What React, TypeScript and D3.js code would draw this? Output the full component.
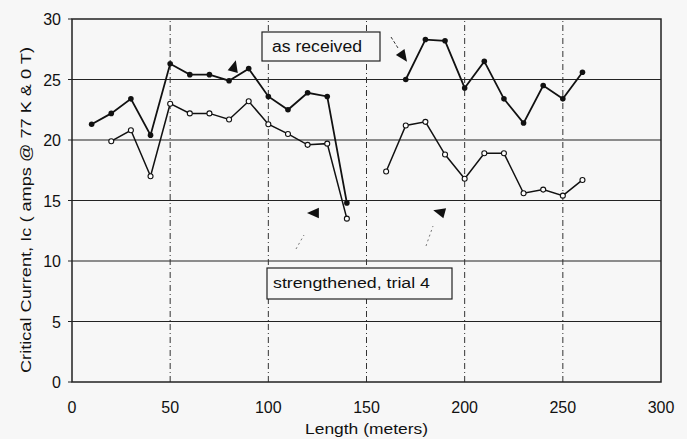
import React from "react";
import * as d3 from "d3";

const lengths = [10, 20, 30, 40, 50, 60, 70, 80, 90, 100, 110, 120, 130, 140, 150, 160, 170, 180, 190, 200, 210, 220, 230, 240, 250, 260];
const asReceived: (number | null)[] = [21.3, 22.2, 23.4, 20.4, 26.3, 25.4, 25.4, 24.9, 25.9, 23.6, 22.5, 23.9, 23.6, 14.8, null, null, 25.0, 28.3, 28.2, 24.3, 26.5, 23.4, 21.4, 24.5, 23.4, 25.6];
const strengthened: (number | null)[] = [null, 19.9, 20.8, 17.0, 23.0, 22.2, 22.2, 21.7, 23.2, 21.3, 20.5, 19.6, 19.7, 13.5, null, 17.4, 21.2, 21.5, 18.8, 16.8, 18.9, 18.9, 15.6, 15.9, 15.4, 16.7];
const xTicks = [0, 50, 100, 150, 200, 250, 300];
const yTicks = [0, 5, 10, 15, 20, 25, 30];
const xGrid = [50, 100, 150, 200, 250];
const yGrid = [5, 10, 15, 20, 25];

export default function App() {
  const W = 687, H = 439;
  const x = d3.scaleLinear().domain([0, 300]).range([72, 661]);
  const y = d3.scaleLinear().domain([0, 30]).range([382, 19]);
  const font = "'Liberation Sans', Arial, sans-serif";

  const pts = (vals: (number | null)[]) => lengths.map((l, i) => ({ l, v: vals[i] }));
  const line = d3
    .line<{ l: number; v: number | null }>()
    .defined((d) => d.v !== null)
    .x((d) => x(d.l))
    .y((d) => y(d.v as number));

  const tri = (cx: number, cy: number, angle: number) => {
    const s = 7;
    const p = [
      [s, 0],
      [-s * 0.7, -s * 0.75],
      [-s * 0.7, s * 0.75],
    ]
      .map(([a, b]) => {
        const r = (angle * Math.PI) / 180;
        return [cx + a * Math.cos(r) - b * Math.sin(r), cy + a * Math.sin(r) + b * Math.cos(r)].join(",");
      })
      .join(" ");
    return <polygon points={p} fill="#111" />;
  };

  return (
    <svg width={W} height={H} style={{ position: "absolute", left: 0, top: 0, background: "#f7f7f7" }}>
      <rect x={0} y={0} width={W} height={H} fill="#f7f7f7" />
      {yGrid.map((t) => (
        <line key={"yg" + t} x1={x(0)} x2={x(300)} y1={y(t)} y2={y(t)} stroke="#222" strokeWidth={1.2} />
      ))}
      {xGrid.map((t) => (
        <line key={"xg" + t} x1={x(t)} x2={x(t)} y1={y(0)} y2={y(30)} stroke="#333" strokeWidth={1} strokeDasharray="6,3,1,3" />
      ))}
      <rect x={x(0)} y={y(30)} width={x(300) - x(0)} height={y(0) - y(30)} fill="none" stroke="#222" strokeWidth={1.5} />
      {yTicks.map((t) => (
        <g key={"yt" + t}>
          <line x1={x(0) - 4} x2={x(0)} y1={y(t)} y2={y(t)} stroke="#222" />
          <text x={61} y={y(t) + 6} textAnchor="end" fontFamily={font} fontSize={16} fill="#111">
            {t}
          </text>
        </g>
      ))}
      {xTicks.map((t) => (
        <text key={"xt" + t} x={x(t)} y={413} textAnchor="middle" fontFamily={font} fontSize={16} fill="#111">
          {t}
        </text>
      ))}
      <text x={305} y={434} textLength={123} lengthAdjust="spacingAndGlyphs" fontFamily={font} fontSize={15} fill="#111">
        Length (meters)
      </text>
      <text
        transform={`translate(31,373) rotate(-90)`}
        textLength={326}
        lengthAdjust="spacingAndGlyphs"
        fontFamily={font}
        fontSize={15.5}
        fill="#111"
      >
        Critical Current, Ic ( amps @ 77 K &amp; 0 T)
      </text>

      <path d={line(pts(asReceived)) || ""} fill="none" stroke="#111" strokeWidth={1.8} />
      <path d={line(pts(strengthened)) || ""} fill="none" stroke="#111" strokeWidth={1.5} />
      {pts(asReceived)
        .filter((d) => d.v !== null)
        .map((d) => (
          <circle key={"a" + d.l} cx={x(d.l)} cy={y(d.v as number)} r={2.8} fill="#111" />
        ))}
      {pts(strengthened)
        .filter((d) => d.v !== null)
        .map((d) => (
          <circle key={"s" + d.l} cx={x(d.l)} cy={y(d.v as number)} r={2.5} fill="#fff" stroke="#111" strokeWidth={1.1} />
        ))}

      <rect x={262} y={32} width={118} height={29} fill="#f7f7f7" stroke="#222" strokeWidth={1.2} />
      <text x={272} y={52} textLength={90} lengthAdjust="spacingAndGlyphs" fontFamily={font} fontSize={16} fill="#111">
        as received
      </text>
      <rect x={267} y={268} width={185} height={31} fill="#f7f7f7" stroke="#222" strokeWidth={1.2} />
      <text x={273} y={288} textLength={157} lengthAdjust="spacingAndGlyphs" fontFamily={font} fontSize={14} fill="#111">
        strengthened, trial 4
      </text>

      {tri(234, 67, -75)}
      <line x1={391} y1={37} x2={398} y2={48} stroke="#333" strokeWidth={1} strokeDasharray="3,2" />
      {tri(403, 56, 55)}
      {tri(314, 213, 180)}
      <line x1={296} y1={249} x2={304} y2={235} stroke="#555" strokeWidth={0.8} strokeDasharray="2,3" />
      {tri(440, 212, 195)}
      <line x1={426} y1={246} x2={433} y2={226} stroke="#555" strokeWidth={0.8} strokeDasharray="2,3" />
    </svg>
  );
}
